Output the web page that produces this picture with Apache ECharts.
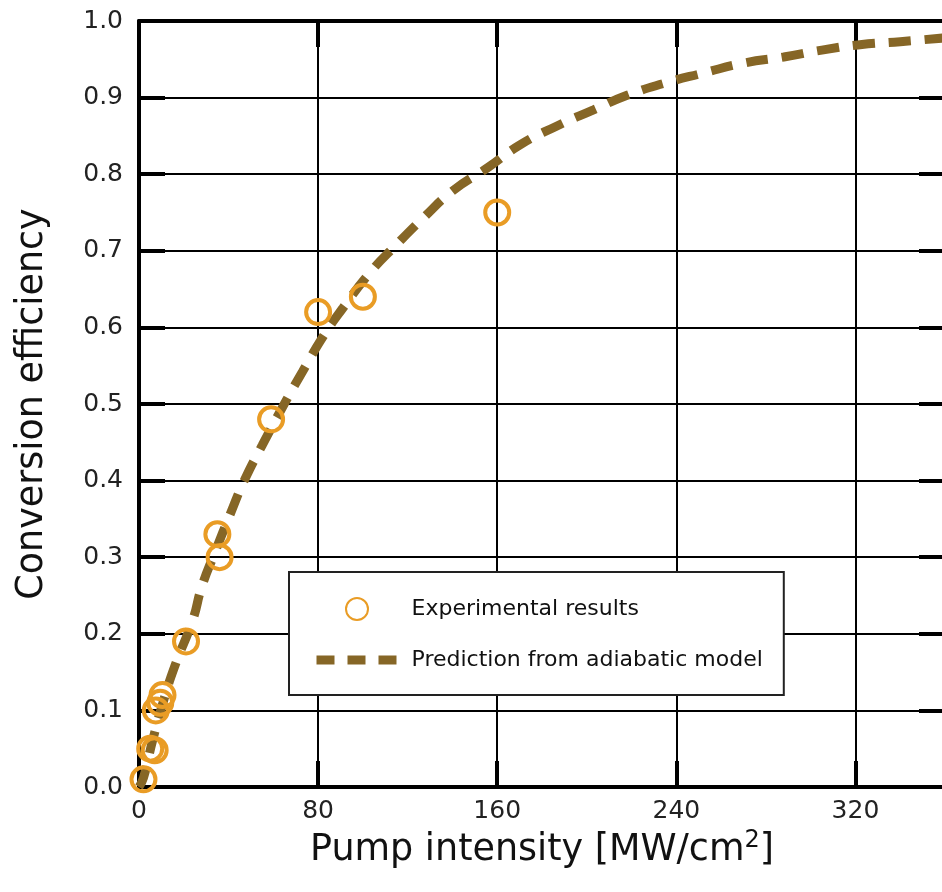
<!DOCTYPE html>
<html>
<head>
<meta charset="utf-8">
<script src="https://cdn.jsdelivr.net/npm/echarts@6/dist/echarts.min.js"></script>
<style>html,body{margin:0;padding:0;background:#fff;}#c{width:942px;height:892px;}</style>
</head>
<body>
<div id="c"></div>
<script>
// Experimental results: [pump intensity MW/cm^2, conversion efficiency]
const expX = [2, 5, 7, 7.5, 9.5, 10.5, 21, 35, 36, 59, 80, 100, 160];
const expY = [0.01, 0.05, 0.048, 0.10, 0.11, 0.12, 0.19, 0.33, 0.30, 0.48, 0.62, 0.64, 0.75];
// Prediction from adiabatic model
const modelX = [0, 2, 6, 11, 16, 24, 28, 34, 41, 47, 55, 66, 73, 82, 91, 103, 115, 127, 140, 156, 170, 186, 203, 218, 235, 252, 270, 288, 305, 322, 340, 360];
const modelY = [0, 0.012, 0.06, 0.113, 0.158, 0.218, 0.261, 0.307, 0.358, 0.4, 0.446, 0.506, 0.542, 0.587, 0.625, 0.671, 0.708, 0.743, 0.778, 0.809, 0.838, 0.862, 0.884, 0.903, 0.919, 0.932, 0.945, 0.953, 0.962, 0.969, 0.973, 0.978];
const xTicks = [0, 80, 160, 240, 320];
const yTicks = [0.0, 0.1, 0.2, 0.3, 0.4, 0.5, 0.6, 0.7, 0.8, 0.9, 1.0];

const FONT = 'DejaVu Sans';
const LINE_COLOR = '#866626';
const DOT_COLOR = '#E99C25';
const chart = echarts.init(document.getElementById('c'), null, {renderer: 'canvas'});
const axisCommon = {
  type: 'value',
  axisLine: {show: true, onZero: false, lineStyle: {color: '#000', width: 4}},
  axisTick: {show: true, inside: true, length: 26, lineStyle: {color: '#000', width: 4}},
};
chart.setOption({
  backgroundColor: '#fff',
  animation: false,
  textStyle: {fontFamily: FONT},
  grid: {left: 139, top: 21, bottom: 105, width: 806, outerBoundsMode: 'none', containLabel: false},
  xAxis: [
    Object.assign({}, axisCommon, {
      position: 'bottom', min: 0, max: 360, interval: 80,
      splitLine: {show: true, lineStyle: {color: '#000', width: 2}},
      axisLabel: {show: true, fontSize: 25, color: '#222', margin: 12, fontFamily: FONT,
        formatter: v => (xTicks.indexOf(v) >= 0 ? String(v) : '')},
      name: '{t|Pump intensity [MW/cm}{s|2}{t|]}',
      nameLocation: 'middle', nameGap: 40,
      nameTextStyle: {rich: {
        t: {fontSize: 36.5, lineHeight: 44, color: '#111', fontFamily: FONT},
        s: {fontSize: 24, lineHeight: 26, verticalAlign: 'top', color: '#111', fontFamily: FONT}
      }}
    }),
    Object.assign({}, axisCommon, {
      position: 'top', min: 0, max: 360, interval: 80,
      splitLine: {show: false}, axisLabel: {show: false}
    })
  ],
  yAxis: [
    Object.assign({}, axisCommon, {
      position: 'left', min: 0, max: 1, interval: 0.1,
      splitLine: {show: true, lineStyle: {color: '#000', width: 2}},
      axisLabel: {show: true, fontSize: 25, color: '#222', margin: 16, fontFamily: FONT,
        formatter: v => (yTicks.some(t => Math.abs(t - v) < 1e-9) ? v.toFixed(1) : '')},
      name: 'Conversion efficiency', nameLocation: 'middle', nameGap: 88,
      nameTextStyle: {fontSize: 36.5, color: '#111', fontFamily: FONT}
    }),
    Object.assign({}, axisCommon, {
      position: 'right', min: 0, max: 1, interval: 0.1,
      splitLine: {show: false}, axisLabel: {show: false}
    })
  ],
  legend: {
    orient: 'vertical', left: 289, top: 572,
    padding: [25, 21, 24, 23],
    itemWidth: 81, itemHeight: 22, itemGap: 28,
    backgroundColor: '#fff', borderColor: '#222', borderWidth: 2,
    textStyle: {fontSize: 22, color: '#111', padding: [0, 0, 0, 9], fontFamily: FONT},
    data: [
      {name: 'Experimental results', icon: 'circle'},
      {name: 'Prediction from adiabatic model',
        lineStyle: {width: 9, type: [18, 13], color: LINE_COLOR, cap: 'butt'},
        itemStyle: {opacity: 0}}
    ]
  },
  series: [
    {
      name: 'Prediction from adiabatic model', type: 'line', smooth: true,
      symbol: 'none', z: 2,
      data: modelX.map((x, i) => [x, modelY[i]]),
      lineStyle: {color: LINE_COLOR, width: 9, type: [22, 14], cap: 'butt'},
      itemStyle: {color: LINE_COLOR}
    },
    {
      name: 'Experimental results', type: 'scatter', symbol: 'circle', symbolSize: 24, z: 3,
      data: expX.map((x, i) => [x, expY[i]]),
      itemStyle: {color: 'rgba(255,255,255,0)', borderColor: DOT_COLOR, borderWidth: 4, opacity: 1}
    }
  ]
});
</script>
</body>
</html>
